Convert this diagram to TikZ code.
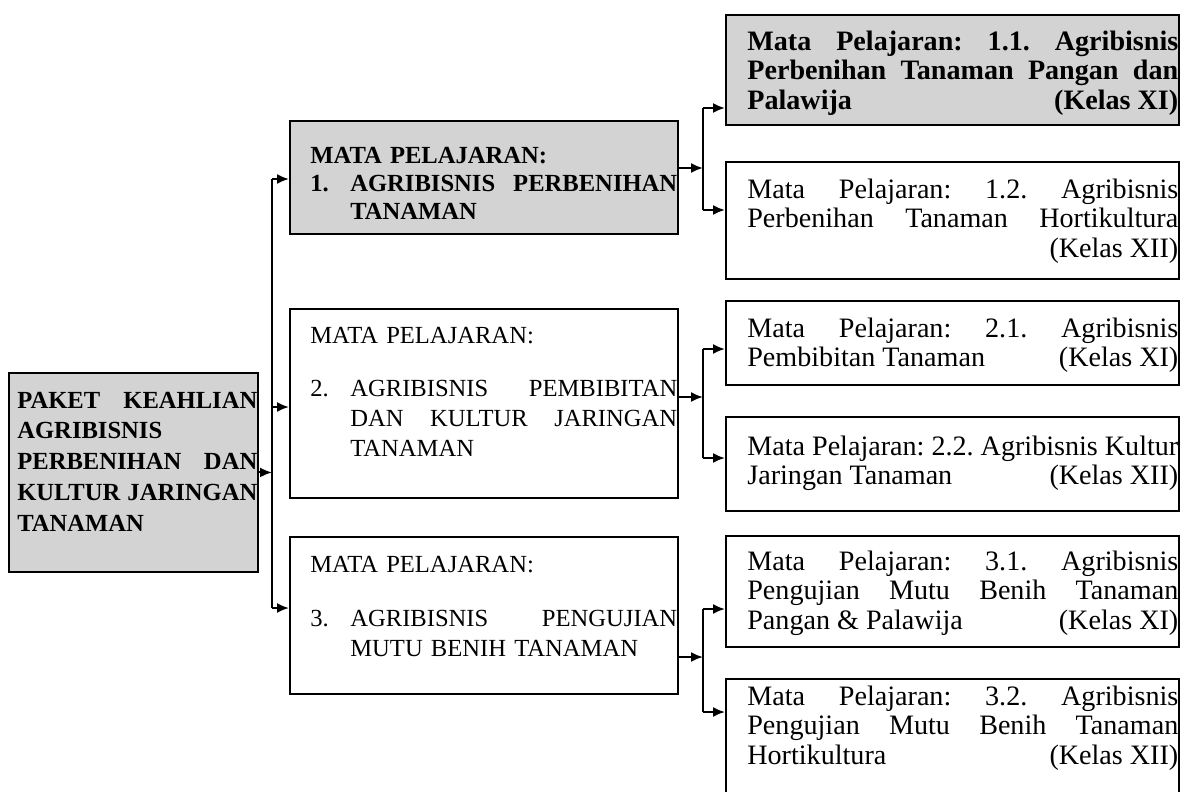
\documentclass[tikz,border=0pt]{standalone}
\usepackage{fontspec}
\setmainfont{Liberation Serif}
\usetikzlibrary{arrows.meta}
\definecolor{abuabu}{RGB}{211,211,211}
\newcommand\jl[1]{\makebox[\linewidth][s]{\spaceskip=\fontdimen2\font plus 1fil minus 0.12em\relax
  \xspaceskip=\spaceskip #1}}
\tikzset{
  kotak/.style={draw, line width=1.1pt, rectangle, inner sep=0pt, anchor=north west},
  isi/.style={inner sep=0pt, anchor=base west, align=left},
  besar/.style={font=\fontsize{14}{17}\selectfont},
  kecil/.style={font=\fontsize{16}{17}\selectfont, text width=8.62cm},
  panah/.style={line width=1.1pt, -{Latex[length=2.4mm,width=2mm]}},
  garis/.style={line width=1.1pt},
}

\begin{document}
\begin{tikzpicture}[x=0.02cm,y=-0.02cm]
\useasboundingbox (0,0) rectangle (1182,791);
\clip (0,0) rectangle (1182,791);

% paket keahlian
\node[kotak, fill=abuabu, minimum width=4.98cm, minimum height=3.98cm] (paket) at (8,372) {};
\node[isi, font=\fontsize{14}{17.6}\selectfont\bfseries, text width=4.8cm] (tpaket) at (17,408)
  {\jl{PAKET KEAHLIAN}\\ AGRIBISNIS\\ \jl{PERBENIHAN DAN}\\ \jl{KULTUR JARINGAN}\\ TANAMAN};

% mata pelajaran
\node[kotak, fill=abuabu, minimum width=7.76cm, minimum height=2.26cm] (satu) at (289,120) {};
\node[isi, font=\fontsize{14}{16.2}\selectfont\bfseries, text width=7.34cm] (tsatu) at (310,163)
  {MATA PELAJARAN:\\ \jl{\makebox[0.8cm][l]{1.}AGRIBISNIS PERBENIHAN}\\ \hspace*{0.8cm}TANAMAN};

\node[kotak, minimum width=7.76cm, minimum height=3.78cm] (dua) at (289,308) {};
\node[isi, besar, text width=7.34cm] (tdua) at (310,343)
  {MATA PELAJARAN:\\[0.48cm] \jl{\makebox[0.8cm][l]{2.}AGRIBISNIS PEMBIBITAN}\\
   \jl{\hspace*{0.8cm}DAN KULTUR JARINGAN}\\ \hspace*{0.8cm}TANAMAN};

\node[kotak, minimum width=7.76cm, minimum height=3.14cm] (tiga) at (289,536) {};
\node[isi, besar, text width=7.34cm] (ttiga) at (310,572)
  {MATA PELAJARAN:\\[0.5cm] \jl{\makebox[0.8cm][l]{3.}AGRIBISNIS PENGUJIAN}\\
   \hspace*{0.8cm}MUTU BENIH TANAMAN};

% sub mata pelajaran
\node[kotak, fill=abuabu, minimum width=9.06cm, minimum height=2.2cm] (mp11) at (725,14) {};
\node[isi, kecil, font=\fontsize{16}{17}\selectfont\bfseries] (tmp11) at (747,50)
  {\jl{Mata Pelajaran: 1.1. Agribisnis}\\ \jl{Perbenihan Tanaman Pangan dan}\\ \jl{Palawija\hfill(Kelas XI)}};

\node[kotak, minimum width=9.06cm, minimum height=2.34cm] (mp12) at (725,161) {};
\node[isi, kecil] (tmp12) at (747,198)
  {\jl{Mata Pelajaran: 1.2. Agribisnis}\\ \jl{Perbenihan Tanaman Hortikultura}\\ \jl{\hfill(Kelas XII)}};

\node[kotak, minimum width=9.06cm, minimum height=1.68cm] (mp21) at (725,300) {};
\node[isi, kecil] (tmp21) at (747,337)
  {\jl{Mata Pelajaran: 2.1. Agribisnis}\\ \jl{Pembibitan Tanaman\hfill(Kelas XI)}};

\node[kotak, minimum width=9.06cm, minimum height=1.88cm] (mp22) at (725,416) {};
\node[isi, kecil] (tmp22) at (747,455)
  {\jl{Mata Pelajaran: 2.2. Agribisnis Kultur}\\ \jl{Jaringan Tanaman\hfill(Kelas XII)}};

\node[kotak, minimum width=9.06cm, minimum height=2.22cm] (mp31) at (725,535) {};
\node[isi, kecil] (tmp31) at (747,570)
  {\jl{Mata Pelajaran: 3.1. Agribisnis}\\ \jl{Pengujian Mutu Benih Tanaman}\\ \jl{Pangan \& Palawija\hfill(Kelas XI)}};

\node[kotak, minimum width=9.06cm, minimum height=2.6cm] (mp32) at (725,678) {};
\node[isi, kecil] (tmp32) at (747,705)
  {\jl{Mata Pelajaran: 3.2. Agribisnis}\\ \jl{Pengujian Mutu Benih Tanaman}\\ \jl{Hortikultura\hfill(Kelas XII)}};

% panah dari paket
\coordinate (t1) at (272,179);
\coordinate (t2) at (272,407);
\coordinate (t3) at (272,608);
\draw[panah] (paket.east) -- (paket.east -| t1);
\draw[garis] (t1) -- (t3);
\draw[panah] (t1) -- (t1 -| satu.west);
\draw[panah] (t2) -- (t2 -| dua.west);
\draw[panah] (t3) -- (t3 -| tiga.west);

% cabang 1
\coordinate (c1) at (703,168);
\coordinate (c1a) at (703,108);
\coordinate (c1b) at (703,210);
\draw[panah] (c1 -| satu.east) -- (c1);
\draw[garis] (c1a) -- (c1b);
\draw[panah] (c1a) -- (c1a -| mp11.west);
\draw[panah] (c1b) -- (c1b -| mp12.west);

% cabang 2
\coordinate (c2) at (703,397);
\coordinate (c2a) at (703,349);
\coordinate (c2b) at (703,458);
\draw[panah] (c2 -| dua.east) -- (c2);
\draw[garis] (c2a) -- (c2b);
\draw[panah] (c2a) -- (c2a -| mp21.west);
\draw[panah] (c2b) -- (c2b -| mp22.west);

% cabang 3
\coordinate (c3) at (703,657);
\coordinate (c3a) at (703,609);
\coordinate (c3b) at (703,712);
\draw[panah] (c3 -| tiga.east) -- (c3);
\draw[garis] (c3a) -- (c3b);
\draw[panah] (c3a) -- (c3a -| mp31.west);
\draw[panah] (c3b) -- (c3b -| mp32.west);

\end{tikzpicture}
\end{document}
